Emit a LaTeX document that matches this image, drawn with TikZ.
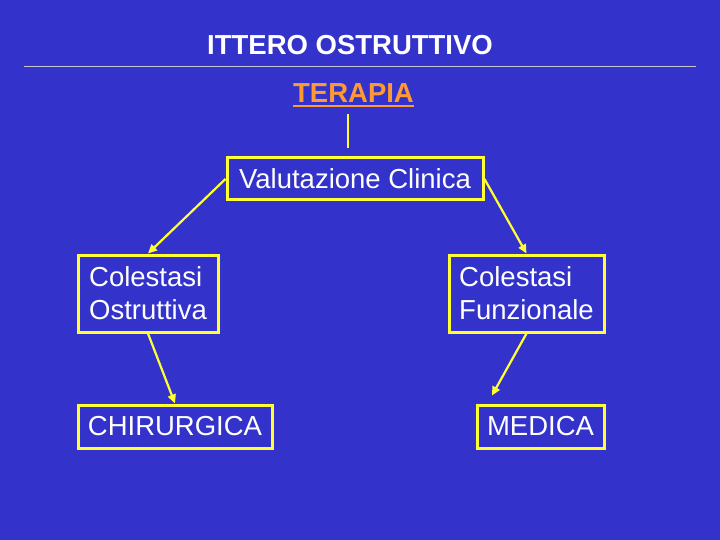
\documentclass[tikz,border=0pt]{standalone}
\usepackage{fontspec}
\setmainfont{Liberation Sans}
\usetikzlibrary{positioning,arrows.meta}

\definecolor{bgblue}{RGB}{51,51,204}
\definecolor{ylw}{RGB}{255,255,51}
\definecolor{orng}{RGB}{255,153,51}
\definecolor{rulegray}{RGB}{200,200,210}

\begin{document}
\begin{tikzpicture}[x=1pt, y=-1pt,
          box/.style={rectangle, draw=ylw, line width=3pt, text=white,
              font=\fontsize{27.5pt}{33pt}\selectfont, align=left, inner sep=0pt},
          head/.style={anchor=base, inner sep=0pt, text=white,
              font=\fontsize{27.5pt}{33pt}\selectfont\bfseries},
          arr/.style={-{Triangle[length=9pt,width=8pt]}, line width=2.2pt, ylw},
          link/.style={line width=2.5pt, ylw}
        ]
        \useasboundingbox (0,0) rectangle (720,540);
        \fill[bgblue] (0,0) rectangle (720,540);
        % title and rule
        \node[head] (ttl) at (350,55) {ITTERO OSTRUTTIVO};
        \draw[rulegray, line width=1pt] (24,67) -- (696,67);
        \node[head, text=orng] (ter) at (353.5,103) {TERAPIA};
        \draw[orng, line width=2pt] ([yshift=-3pt]ter.base west) -- ([yshift=-3pt]ter.base east);
        % boxes
        \node[box, minimum width=256pt, minimum height=42pt] (val)  at (355,179)     {Valutazione Clinica};
        \node[box, minimum width=140pt, minimum height=77pt] (ostr) at (148,293.5)   {Colestasi\\Ostruttiva};
        \node[box, minimum width=155pt, minimum height=77pt] (funz) at (526.5,293.5) {Colestasi\\Funzionale};
        \node[box, minimum width=194pt, minimum height=43pt, below right=70pt and 0pt of ostr.south west] (chir) {CHIRURGICA};
        \node[box, minimum width=127pt, minimum height=43pt, below left=70pt and 0pt of funz.south east]  (med)  {MEDICA};
        % connectors
        \draw[link] ([xshift=-5.5pt,yshift=-11pt]ter.south) -- ([xshift=-7pt,yshift=8pt]val.north);
        \draw[arr] (val.west)   -- (ostr.north);
        \draw[arr] (val.east)   -- (funz.north);
        \draw[arr] (ostr.south) -- (chir.north);
        \draw[arr, shorten >=9pt] (funz.south) -- ([xshift=12pt]med.north west);
      \end{tikzpicture}
\end{document}
